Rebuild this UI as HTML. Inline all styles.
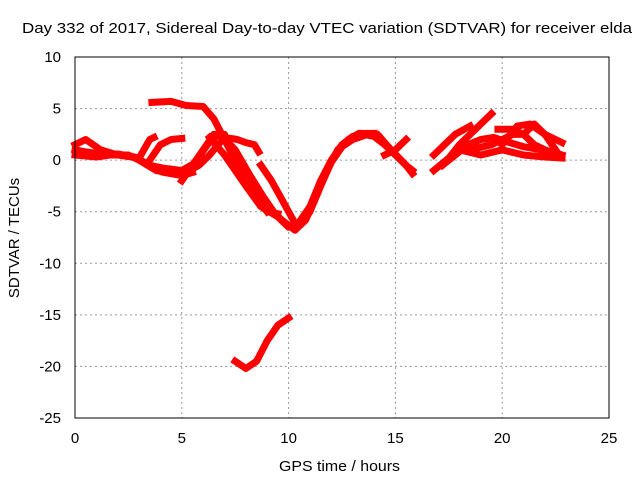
<!DOCTYPE html>
<html><head><meta charset="utf-8"><style>
body{margin:0;background:#fff}
svg{display:block;font-family:"Liberation Sans",sans-serif}
</style></head><body>
<svg id="chart" width="640" height="480">
<text x="22" y="33" font-size="15" textLength="610" lengthAdjust="spacingAndGlyphs">Day 332 of 2017, Sidereal Day-to-day VTEC variation (SDTVAR) for receiver elda</text>
<text x="279" y="471" font-size="15" textLength="121" lengthAdjust="spacingAndGlyphs">GPS time / hours</text>
<text x="19" y="238" font-size="15" text-anchor="middle" transform="rotate(-90 19 238)">SDTVAR / TECUs</text>
<g id="grid"></g><g id="ticks"></g><g id="marks"></g>
<rect x="75" y="57" width="534" height="361" fill="none" stroke="#000" stroke-width="1"/>
</svg>
<script>
const xTicks=[0,5,10,15,20,25];
const yTicks=[10,5,0,-5,-10,-15,-20,-25];
const track1=[[3.6,5.6],[4.5,5.7],[5.2,5.3],[6.0,5.2],[6.5,4.0],[7.0,2.0],[7.5,0],[8.0,-2],[8.5,-3.8],[9,-5],[9.5,-5.2]];
const track2=[[0,1],[0.5,0.8],[1.5,0.5],[2.5,0.5],[3,0],[3.8,-1],[4.5,-1.3],[5.2,-1.2],[5.8,-0.5],[6.3,0.5],[6.7,1.5],[7,2.2],[7.6,2],[8,1.7],[8.4,1.5],[8.6,0.8]];
const track3=[[6.3,2.2],[7,0.5],[8,-2.5],[8.7,-4.5],[9.5,-5.5],[10,-6.5],[10.5,-6],[11,-4.5],[11.5,-2],[12,0],[12.5,1.5],[13,2.3],[13.5,2.5],[14,2.3],[14.5,1.5],[15,0.5],[15.5,-0.5],[15.8,-1.3]];
const track4=[[8.7,-0.5],[9.2,-2],[9.6,-3.5],[10,-5],[10.4,-6.5],[11,-5],[11.5,-2.5],[12,-0.2],[12.5,1.3],[13,2],[13.7,2.5],[14.2,2.3]];
const track5=[[0,1.5],[0.5,2],[1.2,1],[2,0.5],[3,0.2],[3.5,2],[3.7,2.2]];
const track6=[[3.5,0],[4,1.5],[4.5,2],[5,2.1]];
const track7=[[5,-2],[5.5,-0.5],[6,1],[6.5,2.5],[7,2.5],[7.5,-0.5],[8.3,-3],[9,-5]];
const track8=[[4.2,-1.2],[5,-1.5],[5.5,-1.2]];
const track9=[[14.2,2.4],[14.8,1],[15.5,-0.5],[15.8,-1]];
const track10=[[14.5,0.5],[15,1.0],[15.5,2.0]];
const track11=[[7.5,-19.5],[8,-20.2],[8.5,-19.5],[9,-17.5],[9.5,-16],[10,-15.3]];
const track12=[[16.8,-1],[17.5,0.2],[18,1.5],[18.5,2.5],[19,3.5],[19.5,4.5]];
const track13=[[16.8,0.5],[17.3,1.5],[17.8,2.5],[18.5,3.3]];
const track14=[[18.5,1],[19.5,1.5],[20.5,2.5],[21,2.5],[21.5,3.5],[22,2.5],[22.5,1]];
const track15=[[19.8,3],[20.5,3],[21,2.5],[21.5,1.5],[22,1],[22.8,0.5]];
const track16=[[18,1],[19,0.5],[20,1],[21,0.5],[22,0.3],[22.8,0.2]];
const track17=[[20,1.5],[20.7,3.3],[21.3,3.5],[22,2.5],[22.8,1.7]];
const track18=[[6.8,2.5],[7.5,1],[8.2,-1.5],[8.8,-3.5],[9.4,-5.3],[9.8,-6],[10.3,-6.8],[10.8,-5.8],[11.3,-3.5],[11.8,-1],[12.3,1],[12.8,2],[13.3,2.6],[14,2.6]];
const track19=[[0,0.5],[1,0.3],[2,0.6],[2.8,0.3],[3.5,-0.5],[4.2,-0.8],[5,-1],[5.6,-0.3],[6.2,1.5],[6.6,2.3]];
const track20=[[17.2,-0.5],[17.8,0.5],[18.4,1.5],[19,2],[19.6,2.2],[20.2,1.8],[21,1.3],[21.8,1],[22.6,0.5]];
const tracks=[track1,track2,track3,track4,track5,track6,track7,track8,track9,track10,track11,track12,track13,track14,track15,track16,track17,track18,track19,track20];
const NS='http://www.w3.org/2000/svg';
const xS=h=>75+h*534/25;
const yS=v=>57+(10-v)*361/35;
const grid=document.getElementById('grid'),ticks=document.getElementById('ticks'),marks=document.getElementById('marks');
function mk(t,a,p){const e=document.createElementNS(NS,t);for(const k in a)e.setAttribute(k,a[k]);p.appendChild(e);return e;}
xTicks.forEach(t=>{const x=xS(t);
 if(t>0&&t<25){const g=mk('line',{x1:x,x2:x,y1:57,y2:418,stroke:'#999','stroke-dasharray':'2,3'},grid);
 
 }
 const l=mk('text',{x:x,y:443,'font-size':15,'text-anchor':'middle'},ticks);l.textContent=t;
 
 });
yTicks.forEach(t=>{const y=yS(t);
 if(t<10&&t>-25){const g=mk('line',{x1:75,x2:609,y1:y,y2:y,stroke:'#999','stroke-dasharray':'2,3'},grid);
 
 }
 const l=mk('text',{x:61,y:y+5,'font-size':15,'text-anchor':'end'},ticks);l.textContent=t;
 
 });
tracks.forEach(tr=>{const p=mk('polyline',{points:tr.map(d=>xS(d[0])+','+yS(d[1])).join(' '),fill:'none',stroke:'#f00','stroke-width':7,'stroke-linejoin':'round','stroke-linecap':'square'},marks);
 
 });
</script>
</body></html>
